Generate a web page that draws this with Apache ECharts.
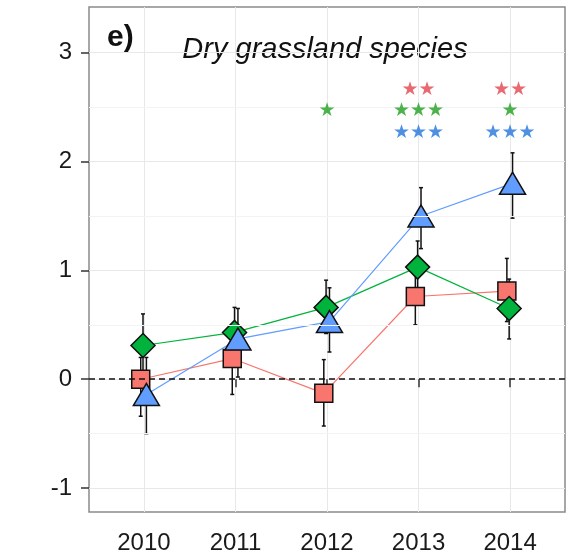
<!DOCTYPE html>
<html>
<head>
<meta charset="utf-8">
<script src="https://cdn.jsdelivr.net/npm/echarts@6/dist/echarts.min.js"></script>
<style>
  html, body { margin: 0; padding: 0; background: #fff; }
  #chart { width: 568px; height: 555px; }
</style>
</head>
<body>
<div id="chart"></div>
<script>
// years and tick labels
const years = [2010, 2011, 2012, 2013, 2014];
const yTicks = [-1, 0, 1, 2, 3];
const yMinor = [-0.5, 0.5, 1.5, 2.5];

// red squares
const sqMean = [0.0, 0.19, -0.13, 0.76, 0.81];
const sqLow = [-0.34, -0.14, -0.43, 0.50, 0.53];
const sqHigh = [0.20, 0.45, 0.18, 1.00, 1.11];

// green diamonds
const diMean = [0.31, 0.43, 0.66, 1.03, 0.65];
const diLow = [0.02, 0.20, 0.42, 0.80, 0.37];
const diHigh = [0.60, 0.66, 0.91, 1.27, 0.92];

// blue triangles
const trMean = [-0.14, 0.37, 0.53, 1.50, 1.80];
const trLow = [-0.50, 0.02, 0.25, 1.20, 1.48];
const trHigh = [0.20, 0.65, 0.84, 1.76, 2.08];

// significance stars per year
const starsRed = ['', '', '', '★★', '★★'];
const starsGreen = ['', '', '★', '★★★', '★'];
const starsBlue = ['', '', '', '★★★', '★★★'];
const starRows = [2.66, 2.46, 2.26];

const groups = [
  { mean: sqMean, low: sqLow, high: sqHigh, dx: -0.035, color: '#F8766D', symbol: 'rect', size: 18 },
  { mean: diMean, low: diLow, high: diHigh, dx: -0.01, color: '#00B33C', symbol: 'diamond', size: [24, 24] },
  { mean: trMean, low: trLow, high: trHigh, dx: 0.027, color: '#619CFF', symbol: 'triangle', size: [26, 22] }
];

const font = "'Liberation Sans', Arial, sans-serif";
const chart = echarts.init(document.getElementById('chart'));

const series = [];

// minor grid + zero line
series.push({
  type: 'line',
  data: [],
  silent: true,
  markLine: {
    silent: true,
    symbol: 'none',
    label: { show: false },
    data: yMinor.map(v => ({ yAxis: v, lineStyle: { color: '#f3f3f3', width: 1, type: 'solid' } }))
      .concat([{ yAxis: 0, lineStyle: { color: '#111', width: 1.5, type: [6, 4] } }])
  }
});

// connecting lines
groups.forEach(g => {
  series.push({
    type: 'line',
    symbol: 'none',
    silent: true,
    lineStyle: { color: g.color, width: 1.2 },
    data: years.map((y, i) => [y + g.dx, g.mean[i]]),
    z: 2
  });
});

// error bars
groups.forEach(g => {
  series.push({
    type: 'custom',
    silent: true,
    z: 3,
    data: years.map((y, i) => [y + g.dx, g.low[i], g.high[i]]),
    renderItem(params, api) {
      const top = api.coord([api.value(0), api.value(2)]);
      const bot = api.coord([api.value(0), api.value(1)]);
      const st = { stroke: '#111', lineWidth: 1.5 };
      return {
        type: 'group',
        children: [
          { type: 'line', shape: { x1: top[0], y1: top[1], x2: bot[0], y2: bot[1] }, style: st },
          { type: 'line', shape: { x1: top[0] - 2, y1: top[1], x2: top[0] + 2, y2: top[1] }, style: st },
          { type: 'line', shape: { x1: bot[0] - 2, y1: bot[1], x2: bot[0] + 2, y2: bot[1] }, style: st }
        ]
      };
    }
  });
});

// markers
groups.forEach(g => {
  series.push({
    type: 'scatter',
    symbol: g.symbol,
    symbolSize: g.size,
    z: 4,
    itemStyle: { color: g.color, borderColor: '#111', borderWidth: 1.5, opacity: 1 },
    data: years.map((y, i) => [y + g.dx, g.mean[i]])
  });
});

// stars
[[starsRed, '#E2434B'], [starsGreen, '#1FA01F'], [starsBlue, '#2474DC']].forEach((s, k) => {
  series.push({
    type: 'scatter',
    symbolSize: 0,
    silent: true,
    z: 5,
    data: years.map((y, i) => [y, starRows[k], s[0][i]]).filter(d => d[2]),
    label: {
      show: true,
      position: 'inside',
      formatter: p => p.data[2],
      color: s[1],
      fontSize: 19,
      fontFamily: 'DejaVu Sans'
    }
  });
});

chart.setOption({
  backgroundColor: '#fff',
  animation: false,
  grid: { left: 89, right: 3, top: 7, bottom: 42, show: true, borderColor: '#8a8a8a', borderWidth: 1.5 },
  xAxis: {
    type: 'value',
    min: 2009.4,
    max: 2014.6,
    axisLine: { show: false },
    axisTick: { show: true, length: 8, lineStyle: { color: '#333', width: 1.5 }, customValues: years },
    axisLabel: { customValues: years, formatter: v => String(v), margin: 19, fontSize: 24, color: '#1a1a1a', fontFamily: font },
    splitLine: { show: true, lineStyle: { color: '#e8e8e8', width: 1 } }
  },
  yAxis: {
    type: 'value',
    min: -1.22,
    max: 3.42,
    axisLine: { show: false },
    axisTick: { show: true, length: 8, lineStyle: { color: '#333', width: 1.5 }, customValues: yTicks },
    axisLabel: { customValues: yTicks, margin: 17, fontSize: 24, color: '#1a1a1a', fontFamily: font },
    splitLine: { show: true, lineStyle: { color: '#e8e8e8', width: 1 } }
  },
  graphic: [
    { type: 'text', left: 107, top: 23, style: { text: 'e)', font: "bold 30px 'Liberation Sans', Arial, sans-serif", fill: '#111' } },
    { type: 'text', x: 325, y: 50, style: { text: 'Dry grassland species', font: "italic 29px 'Liberation Sans', Arial, sans-serif", fill: '#111', align: 'center', verticalAlign: 'middle' } }
  ],
  series
});
</script>
</body>
</html>
